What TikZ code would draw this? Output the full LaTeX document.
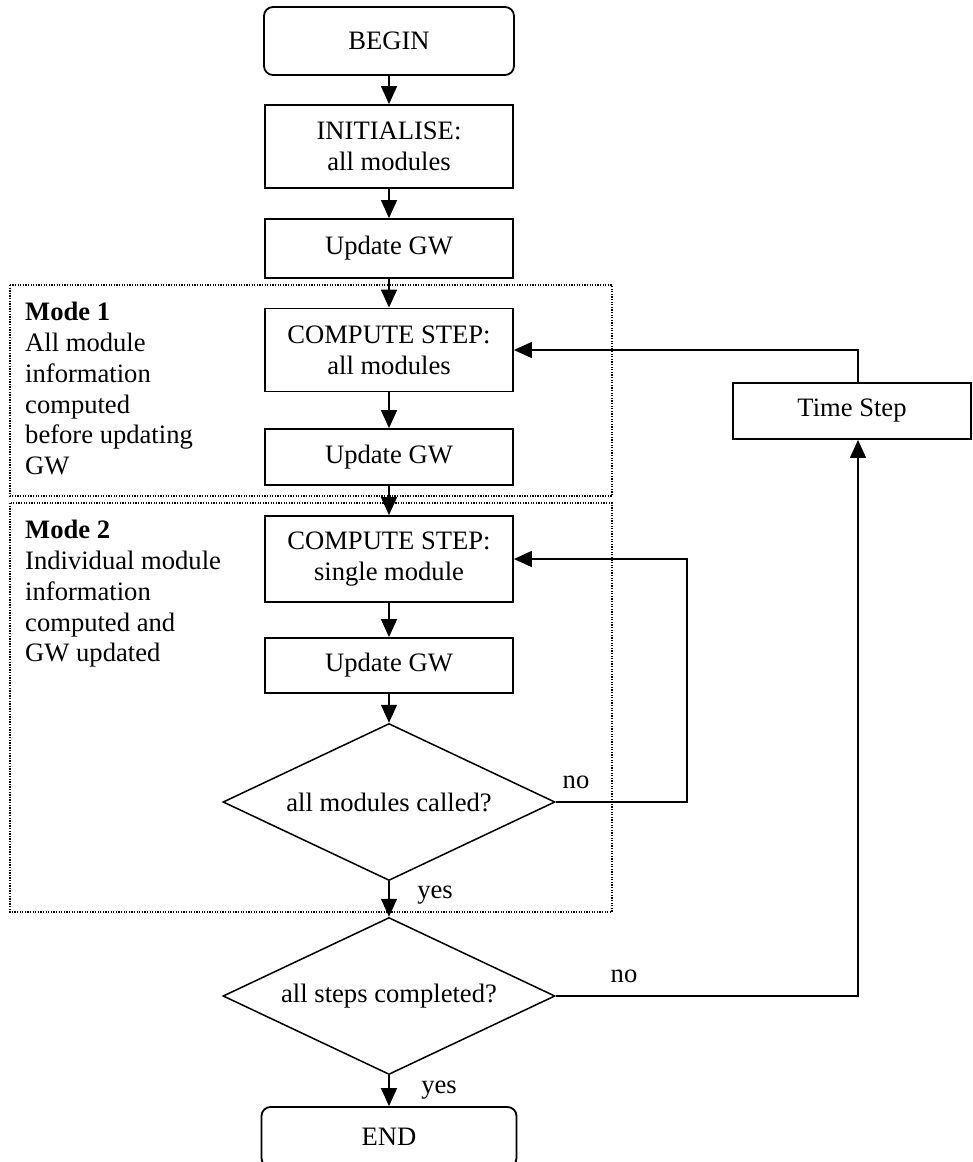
\documentclass[tikz,border=0pt]{standalone}
\usepackage{fontspec}
\setmainfont{Liberation Serif}
\usetikzlibrary{shapes.geometric,arrows.meta}

\begin{document}
\begin{tikzpicture}[x=1pt,y=-1pt,
  every node/.style={font=\fontsize{26.6}{30.8}\selectfont},
  procbox/.style={draw, line width=1.8pt, rectangle, inner sep=0pt,
    minimum width=248pt, align=center},
  termbox/.style={procbox, rounded corners=9pt, minimum width=250pt},
  decision/.style={draw, line width=1.5pt, diamond, aspect=2.1, inner sep=0pt,
    minimum width=332pt, minimum height=157pt},
  modebox/.style={draw, line width=1.2pt, dash pattern=on 1.3pt off 1.3pt},
  flow/.style={line width=1.4pt, -{Triangle[length=18pt,width=16pt]}},
  tag/.style={anchor=base, inner sep=0pt}
]
\clip (0,0) rectangle (973,1162);

% mode frames
\draw[modebox] (10,285) rectangle (612,496);
\draw[modebox] (10,503) rectangle (612,912);
\node[anchor=north west, inner sep=0pt, align=left] (m1) at (25,302)
  {\textbf{Mode 1}\\All module\\information\\computed\\before updating\\GW};
\node[anchor=north west, inner sep=0pt, align=left] (m2) at (25,520)
  {\textbf{Mode 2}\\Individual module\\information\\computed and\\GW updated};

% main column
\node[termbox, minimum height=68pt] (begin) at (389,41) {BEGIN};
\node[procbox, minimum height=83pt] (init) at (389,146.5) {INITIALISE:\\all modules};
\node[procbox, minimum height=59pt] (upd1) at (389,248.5) {Update GW};
\node[procbox, minimum height=83pt] (cs1) at (389,350) {COMPUTE STEP:\\all modules};
\node[procbox, minimum height=56pt] (upd2) at (389,457) {Update GW};
\node[procbox, minimum height=86pt] (cs2) at (389,559) {COMPUTE STEP:\\single module};
\node[procbox, minimum height=55pt] (upd3) at (389,665.5) {Update GW};
\node[decision] (d1) at (389,802) {all modules called?};
\node[decision] (d2) at (389,996) {all steps completed?};
\node[termbox, minimum height=60pt, minimum width=255pt] (end) at (389,1137) {END};

% time step box on the right
\node[procbox, minimum width=238pt, minimum height=56pt] (ts) at (852,411) {Time Step};
\coordinate (tsx) at (858,411);
\coordinate (loopx) at (687,802);

% straight flow
\draw[flow] (begin) -- (init);
\draw[flow] (init) -- (upd1);
\draw[flow] (upd1) -- (cs1);
\draw[flow] (cs1) -- (upd2);
\draw[flow] (upd2) -- (cs2);
\draw[flow] (cs2) -- (upd3);
\draw[flow] (upd3) -- (d1);
\draw[flow] (d1) -- (d2);
\draw[flow] (d2) -- (end);

% loops
\draw[flow] (d1.east) -- (loopx) |- (cs2.east);
\draw[flow] (d2.east) -| (ts.south -| tsx);
\draw[flow] (ts.north -| tsx) |- (cs1.east);

% branch labels
\node[tag] (no1) at (576,788) {no};
\node[tag] (yes1) at (435,898) {yes};
\node[tag] (no2) at (624,982) {no};
\node[tag] (yes2) at (439,1093) {yes};
\end{tikzpicture}
\end{document}
